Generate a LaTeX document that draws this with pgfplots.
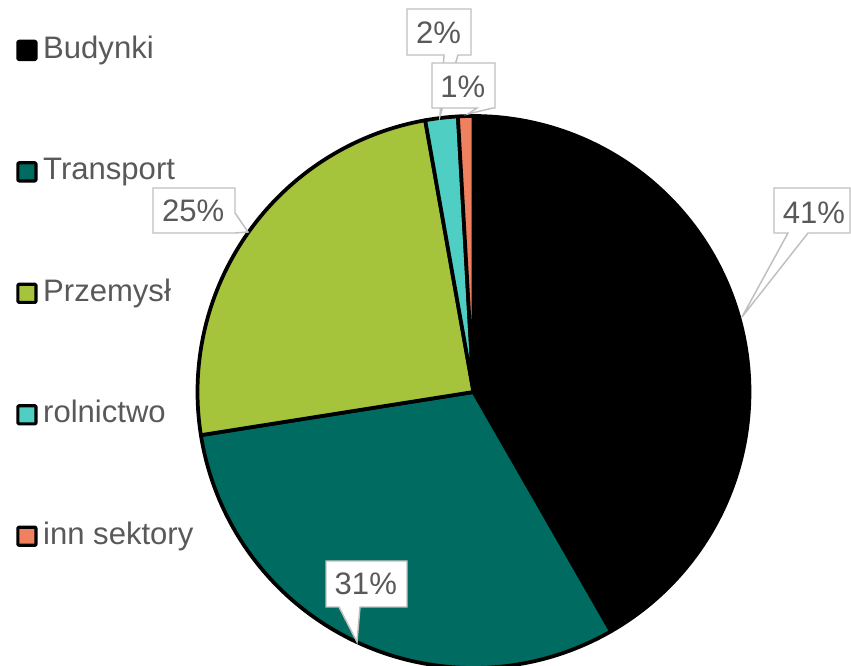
\documentclass[border=0pt]{standalone}
\usepackage{pgfplots}
\pgfplotsset{compat=1.18}
\usepackage{fontspec}
\setmainfont{Liberation Sans}
\definecolor{cBud}{HTML}{000000}
\definecolor{cTra}{HTML}{006B61}
\definecolor{cPrz}{HTML}{A5C33B}
\definecolor{cRol}{HTML}{4FCFC4}
\definecolor{cInn}{HTML}{F0815F}
\definecolor{txt}{HTML}{595959}
\definecolor{lbl}{HTML}{BFBFBF}
% shares (percent)
\def\vBud{41.7}
\def\vTra{30.8}
\def\vPrz{24.7}
\def\vRol{1.9}
\def\vInn{0.9}
\pgfmathsetmacro{\aZ}{90}
\pgfmathsetmacro{\aA}{\aZ-3.6*\vBud}
\pgfmathsetmacro{\aB}{\aA-3.6*\vTra}
\pgfmathsetmacro{\aC}{\aB-3.6*\vPrz}
\pgfmathsetmacro{\aD}{\aC-3.6*\vRol}
\pgfmathsetmacro{\aE}{\aD-3.6*\vInn}
\def\cx{473.5}
\def\cy{274}
\def\R{276}
\begin{document}
\begin{tikzpicture}
\begin{axis}[
  width=638.25pt, height=499.5pt, scale only axis,
  xmin=0, xmax=851, ymin=0, ymax=666,
  hide axis,
  legend cell align=left,
  legend image code/.code={\draw[#1, line width=2.4pt, rounded corners=0.8pt] (0pt,-6.8pt) rectangle (13.6pt,6.8pt);},
  legend style={at={(axis cs:12,633.2)}, anchor=north west, draw=none, fill=none,
    font=\fontsize{23.3pt}{28pt}\selectfont, text=txt, row sep=69.1pt,
    nodes={inner sep=0pt, text height=17pt, text depth=5pt},
    /tikz/every odd column/.append style={column sep=4.2pt}},
  pie/.style={draw=black, line width=2.8pt, line join=round, samples=120, variable=\t},
]
\path (rel axis cs:0,0) rectangle (rel axis cs:1,1);
\addplot[pie, fill=cBud, domain=\aA:\aZ] ({\cx+\R*cos(\t)}, {\cy+\R*sin(\t)}) -- (\cx,\cy) -- cycle;
\addplot[pie, fill=cTra, domain=\aB:\aA] ({\cx+\R*cos(\t)}, {\cy+\R*sin(\t)}) -- (\cx,\cy) -- cycle;
\addplot[pie, fill=cPrz, domain=\aC:\aB] ({\cx+\R*cos(\t)}, {\cy+\R*sin(\t)}) -- (\cx,\cy) -- cycle;
\addplot[pie, fill=cRol, domain=\aD:\aC] ({\cx+\R*cos(\t)}, {\cy+\R*sin(\t)}) -- (\cx,\cy) -- cycle;
\addplot[pie, fill=cInn, domain=\aE:\aD] ({\cx+\R*cos(\t)}, {\cy+\R*sin(\t)}) -- (\cx,\cy) -- cycle;
\legend{Budynki,Transport,Przemysł,rolnictwo,inn sektory}
% data label callouts
\tikzset{callout/.style={draw=lbl, line width=1.1pt, fill=white, line join=miter},
  lab/.style={font=\fontsize{23.3pt}{28pt}\selectfont, text=txt, anchor=base, inner sep=0pt}}
\draw[callout] (774,478) -- (850,478) -- (850,433) -- (808,433) -- (742,349) -- (788,433) -- (774,433) -- cycle;
\node[lab] at (814,442.7) {41\%};
\draw[callout] (326,105) -- (407,105) -- (407,59) -- (360,59) -- (357,24) -- (339,59) -- (326,59) -- cycle;
\node[lab] at (365.8,71) {31\%};
\draw[callout] (153,478) -- (235,478) -- (235,453) -- (248,434) -- (235,433) -- (153,433) -- cycle;
\node[lab] at (193.2,444.3) {25\%};
\draw[callout] (407,657) -- (471,657) -- (471,611) -- (458,611) -- (440,550) -- (444,611) -- (407,611) -- cycle;
\node[lab] at (438.5,622.7) {2\%};
\draw[callout] (432,603) -- (495,603) -- (495,558) -- (493,558) -- (468,552) -- (477,558) -- (432,558) -- cycle;
\node[lab] at (462.8,568.7) {1\%};
\end{axis}
\end{tikzpicture}
\end{document}
